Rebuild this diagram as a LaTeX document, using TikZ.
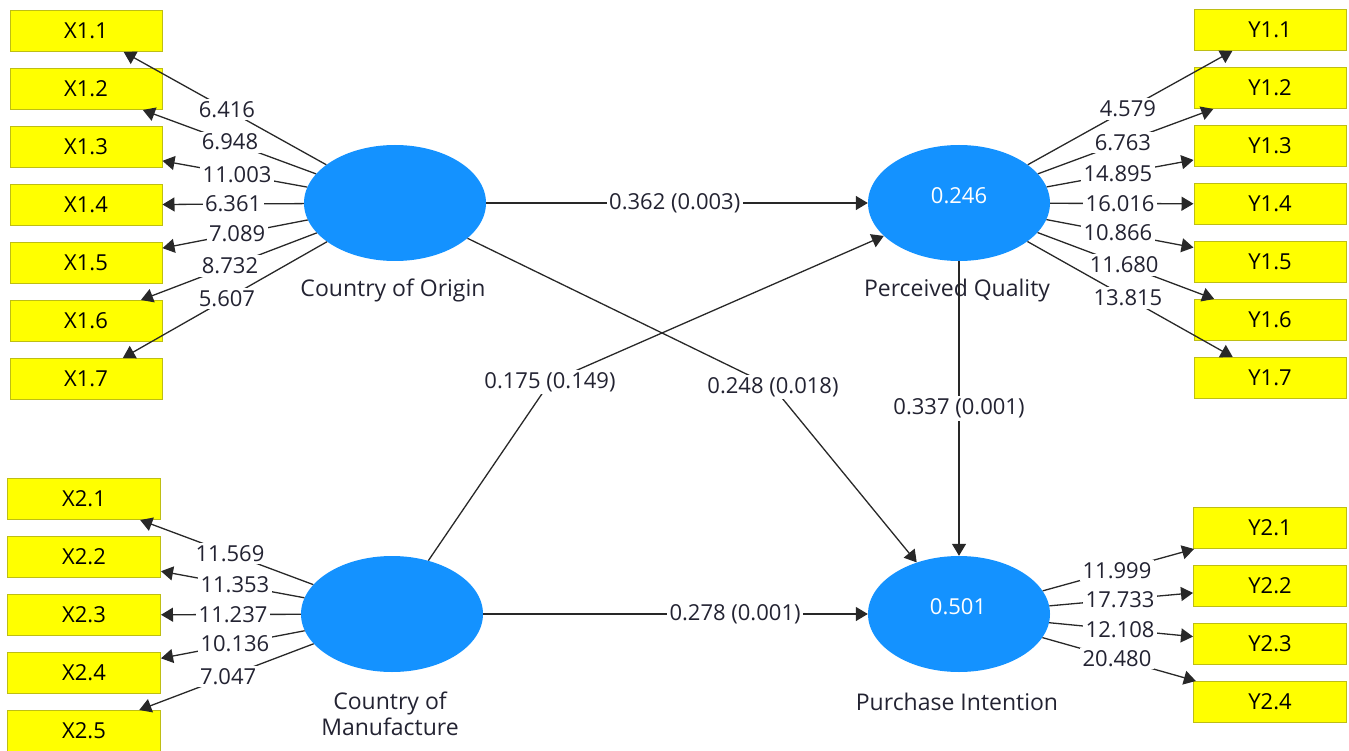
\documentclass[tikz,border=0pt]{standalone}
\usepackage{fontspec}
\setmainfont{Open Sans}
\usetikzlibrary{arrows.meta,calc,shapes.geometric}
\definecolor{lvblue}{RGB}{20,146,255}
\definecolor{indfill}{RGB}{255,255,0}
\definecolor{indborder}{RGB}{190,190,20}
\definecolor{txt}{RGB}{35,35,50}
\definecolor{linec}{RGB}{40,40,40}
\newcommand{\dfont}{\fontsize{22}{26}\selectfont}
\newcommand{\nfont}{\fontsize{23}{26}\selectfont}
\begin{document}
\begin{tikzpicture}[x=1pt,y=-1pt,
  ind/.style={draw=indborder, line width=1pt, fill=indfill, minimum width=152pt, minimum height=41pt, inner sep=0pt, text=black, font=\dfont},
  lat/.style={ellipse, fill=lvblue, minimum width=182pt, minimum height=116pt, inner sep=0pt},
  lattxt/.style={text=white, font=\dfont, inner sep=0pt},
  latname/.style={text=txt, font=\nfont, inner sep=0pt, align=center},
  conn/.style={draw=linec, line width=1.3pt, -{Triangle[length=12pt,width=14pt]}},
  lbl/.style={fill=white, inner sep=2.5pt, text=txt, font=\dfont}]
\useasboundingbox (0,0) rectangle (1349,751);

% latent variables
\node[lat] (coo) at (395,203) {};
\node[lat] (pq)  at (959,203) {};
\node[lat] (com) at (392,614) {};
\node[lat] (pi)  at (959,614) {};
\node[lattxt] (pqr) at (959,196) {0.246};
\node[lattxt] (pir) at (958,607) {0.501};
\node[latname] (cooname) at (393,290) {Country of Origin};
\node[latname] (pqname)  at (957,291) {Perceived Quality};
\node[latname] (comname) at (390,714) {Country of\\Manufacture};
\node[latname] (piname)  at (957,702) {Purchase Intention};

% indicators
\foreach \i in {1,...,7} {
  \node[ind] (x1\i) at (86,{31+58*(\i-1)}) {X1.\i};
  \node[ind] (y1\i) at (1270,{30+58*(\i-1)}) {Y1.\i};
}
\foreach \i in {1,...,5} {
  \node[ind, minimum width=153pt] (x2\i) at (84,{499+58*(\i-1)}) {X2.\i};
}
\foreach \i in {1,...,4} {
  \node[ind, minimum width=153pt] (y2\i) at (1270,{528+58*(\i-1)}) {Y2.\i};
}

% outer loadings (t values)
\foreach \i/\t/\v in {1/0.544/6.416, 2/0.534/6.948, 3/0.511/11.003, 4/0.524/6.361, 5/0.511/7.089, 6/0.534/8.732, 7/0.544/5.607} {
  \draw[conn] (coo) -- (x1\i);
  \path (coo.center) -- node[lbl, pos=\t] (lx1\i) {\v} (x1\i.center);
}
\foreach \i/\t/\v in {1/0.543/4.579, 2/0.527/6.763, 3/0.511/14.895, 4/0.518/16.016, 5/0.511/10.866, 6/0.531/11.680, 7/0.543/13.815} {
  \draw[conn] (pq) -- (y1\i);
  \path (pq.center) -- node[lbl, pos=\t] (ly1\i) {\v} (y1\i.center);
}
\foreach \i/\t/\v in {1/0.526/11.569, 2/0.510/11.353, 3/0.516/11.237, 4/0.510/10.136, 5/0.532/7.047} {
  \draw[conn] (com) -- (x2\i);
  \path (com.center) -- node[lbl, pos=\t] (lx2\i) {\v} (x2\i.center);
}
\foreach \i/\t/\v in {1/0.508/11.999, 2/0.518/17.733, 3/0.518/12.108, 4/0.508/20.480} {
  \draw[conn] (pi) -- (y2\i);
  \path (pi.center) -- node[lbl, pos=\t] (ly2\i) {\v} (y2\i.center);
}

% structural paths
\coordinate (bend1) at (773,387);
\coordinate (bend2) at (550,382);
\draw[conn] (coo) -- (pq);
\path (coo.center) -- node[lbl, pos=0.496] (lcoopq) {0.362 (0.003)} (pq.center);
\draw[conn] (coo) -- (bend1) -- (pi);
\node[lbl] (lcoopi) at (bend1) {0.248 (0.018)};
\draw[conn] (com) -- (bend2) -- (pq);
\node[lbl] (lcompq) at (bend2) {0.175 (0.149)};
\draw[conn] (pq) -- (pi);
\path (pq.center) -- node[lbl, pos=0.5] (lpqpi) {0.337 (0.001)} (pi.center);
\draw[conn] (com) -- (pi);
\path (com.center) -- node[lbl, pos=0.605] (lcompi) {0.278 (0.001)} (pi.center);
\end{tikzpicture}
\end{document}
